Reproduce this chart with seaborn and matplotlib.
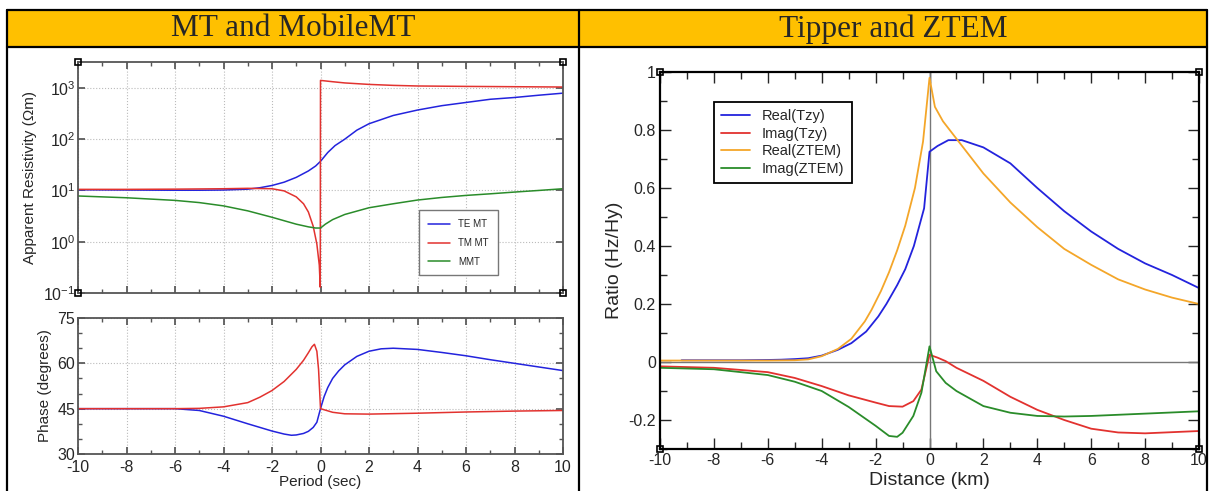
"""
MT / MobileMT vs Tipper / ZTEM comparison panel
"""
import numpy as np
import pandas as pd
import matplotlib
matplotlib.use("Agg")
import matplotlib.pyplot as plt
import matplotlib.ticker as mticker
from matplotlib.patches import Rectangle
from matplotlib.lines import Line2D
import seaborn as sns

sns.set_theme(style="ticks")
plt.rcParams["font.family"] = ["Liberation Sans", "DejaVu Sans"]
plt.rcParams["xtick.direction"] = "in"
plt.rcParams["ytick.direction"] = "in"
plt.rcParams["axes.unicode_minus"] = False

# ── Data: apparent resistivity (Ωm) vs period ─────────────────────────────
te_rho_x = [-10, -8, -6, -5, -4, -3, -2.5, -2, -1.5, -1, -0.5, -0.2, 0, 0.3, 0.6, 1,
            1.5, 2, 3, 4, 5, 6, 7, 8, 9, 10]
te_rho = [10.3, 10.2, 10.1, 10.1, 10.2, 10.6, 11.3, 12.5, 14.5, 18, 24, 30, 37, 55, 75,
          100, 150, 200, 290, 370, 450, 520, 600, 650, 720, 790]

tm_rho_x = [-10, -8, -6, -4, -3, -2, -1.5, -1, -0.7, -0.5, -0.3, -0.15, -0.05, -0.01,
            0, 0.5, 1, 2, 3, 4, 6, 8, 10]
tm_rho = [10.5, 10.5, 10.6, 10.8, 11.0, 10.8, 9.8, 7.5, 5.5, 3.8, 2.0, 0.9, 0.35, 0.13,
          1400, 1320, 1250, 1170, 1120, 1090, 1070, 1055, 1040]

mmt_rho_x = [-10, -8, -6, -5, -4, -3, -2, -1, -0.5, -0.2, 0, 0.2, 0.5, 1, 2, 3, 4, 5,
             6, 7, 8, 9, 10]
mmt_rho = [7.8, 7.2, 6.4, 5.8, 5.0, 4.0, 3.0, 2.2, 1.95, 1.85, 1.85, 2.2, 2.7, 3.4, 4.6,
           5.5, 6.5, 7.3, 8.0, 8.6, 9.3, 10.0, 10.8]

# ── Data: phase (degrees) vs period ────────────────────────────────────────
te_ph_x = [-10, -6, -5, -4, -3, -2, -1.5, -1.2, -1, -0.7, -0.5, -0.3, -0.15, 0, 0.15,
           0.3, 0.5, 0.75, 1, 1.5, 2, 2.5, 3, 4, 5, 6, 7, 8, 9, 10]
te_ph = [45, 45, 44.4, 42.5, 40, 37.6, 36.6, 36.2, 36.3, 36.8, 37.5, 38.8, 40.5, 45,
         49, 52, 55, 57.5, 59.5, 62.3, 64, 64.8, 65, 64.6, 63.6, 62.5, 61.2, 60, 58.8,
         57.6]

tm_ph_x = [-10, -6, -5, -4, -3, -2.5, -2, -1.5, -1, -0.7, -0.5, -0.35, -0.25, -0.15,
           -0.08, -0.03, 0, 0.5, 1, 2, 4, 6, 8, 10]
tm_ph = [45, 45, 45.1, 45.6, 47, 48.8, 51, 54, 58, 61, 63.5, 65.5, 66.3, 64, 58, 50,
         45, 43.8, 43.3, 43.2, 43.5, 43.9, 44.2, 44.4]

# ── Data: tipper / ZTEM ratio vs distance (km) ─────────────────────────────
real_tzy_x = [-9.2, -7, -6, -5.5, -5, -4.5, -4, -3.4, -2.9, -2.35, -1.9, -1.6, -1.2,
              -0.9, -0.58, -0.2, 0, 0.3, 0.7, 1.2, 2, 3, 4, 5, 6, 7, 8, 9, 10]
real_tzy = [0.006, 0.006, 0.007, 0.008, 0.01, 0.013, 0.022, 0.042, 0.065, 0.105, 0.157,
            0.2, 0.265, 0.32, 0.4, 0.53, 0.725, 0.745, 0.765, 0.765, 0.74, 0.685, 0.6,
            0.52, 0.45, 0.39, 0.34, 0.3, 0.255]

imag_tzy_x = [-10, -8, -6, -5, -4, -3, -2, -1.5, -1, -0.6, -0.3, 0, 0.3, 0.6, 1, 2, 3,
              4, 5, 6, 7, 8, 9, 10]
imag_tzy = [-0.015, -0.02, -0.035, -0.055, -0.083, -0.115, -0.14, -0.152, -0.154,
            -0.135, -0.095, 0.025, 0.015, 0.003, -0.02, -0.065, -0.12, -0.165, -0.2,
            -0.23, -0.243, -0.246, -0.242, -0.238]

real_ztem_x = [-10, -6, -5, -4.5, -4, -3.4, -2.9, -2.4, -2.15, -1.8, -1.5, -1.2, -0.9,
               -0.54, -0.24, 0, 0.2, 0.5, 1, 1.5, 2, 3, 4, 5, 6, 7, 8, 9, 10]
real_ztem = [0.005, 0.005, 0.006, 0.009, 0.02, 0.045, 0.08, 0.14, 0.18, 0.245, 0.31,
             0.385, 0.47, 0.6, 0.76, 0.98, 0.88, 0.83, 0.77, 0.71, 0.65, 0.55, 0.465,
             0.39, 0.335, 0.285, 0.25, 0.222, 0.2]

imag_ztem_x = [-10, -8, -6, -5, -4, -3, -2, -1.5, -1.2, -1, -0.6, -0.3, 0, 0.25, 0.6, 1,
               2, 3, 4, 5, 6, 7, 8, 9, 10]
imag_ztem = [-0.02, -0.025, -0.045, -0.068, -0.1, -0.155, -0.22, -0.255, -0.258, -0.244,
             -0.186, -0.106, 0.054, -0.032, -0.072, -0.1, -0.152, -0.175, -0.186, -0.188,
             -0.186, -0.182, -0.178, -0.174, -0.17]

BLUE, RED, GREEN, ORANGE = "#2323DD", "#E2322F", "#2A8C2A", "#F4A629"
HEADER = "#FFC000"

W, H = 1210, 491
fig = plt.figure(figsize=(W / 100, H / 100), dpi=100)


def px_axes(x0, y0, x1, y1):
    # pixel box (top-left origin) -> figure axes
    return fig.add_axes([x0 / W, 1 - y1 / H, (x1 - x0) / W, (y1 - y0) / H])


def px_line(xs, ys, lw=1.6):
    fig.add_artist(Line2D([x / W for x in xs], [1 - y / H for y in ys],
                          color="black", lw=lw, transform=fig.transFigure))


def corner_marks(ax):
    for cx in (0, 1):
        for cy in (0, 1):
            ax.plot(cx, cy, marker="s", ms=4, mfc="none", mec="black", mew=1.2,
                    transform=ax.transAxes, clip_on=False, zorder=10)


# ── Table frame & header ───────────────────────────────────────────────────
fig.add_artist(Rectangle((7 / W, 1 - 47 / H), 1200 / W, 37 / H, facecolor=HEADER,
                         edgecolor="none", transform=fig.transFigure))
px_line([7, 1207], [10, 10])
px_line([7, 1207], [47, 47])
px_line([7, 7], [10, 491])
px_line([579, 579], [10, 491])
px_line([1207, 1207], [10, 491])
fig.text(293 / W, 1 - 29 / H, "MT and MobileMT", ha="center", va="center",
         fontsize=22.5, family=["Liberation Serif", "DejaVu Serif"])
fig.text(893 / W, 1 - 29 / H, "Tipper and ZTEM", ha="center", va="center",
         fontsize=22.5, family=["Liberation Serif", "DejaVu Serif"])

# ── Left panel: apparent resistivity ───────────────────────────────────────
FRAME = "#555555"
ax1 = px_axes(78, 62, 563, 293)
sns.lineplot(x=te_rho_x, y=te_rho, ax=ax1, color=BLUE, lw=1.1, label="TE MT",
             sort=False, estimator=None)
sns.lineplot(x=tm_rho_x, y=tm_rho, ax=ax1, color=RED, lw=1.1, label="TM MT",
             sort=False, estimator=None)
sns.lineplot(x=mmt_rho_x, y=mmt_rho, ax=ax1, color=GREEN, lw=1.1, label="MMT",
             sort=False, estimator=None)
ax1.set_yscale("log")
ax1.set_ylim(0.1, 3200)
ax1.set_xlim(-10, 10)
ax1.set_yticks([0.1, 1, 10, 100, 1000])
ax1.yaxis.set_minor_locator(mticker.NullLocator())
ax1.set_xticks(np.arange(-10, 11, 2))
ax1.xaxis.set_minor_locator(mticker.MultipleLocator(1))
ax1.set_xticklabels([])
ax1.set_ylabel("Apparent Resistivity (\u03a9m)", fontsize=11)
ax1.legend(loc="lower right", bbox_to_anchor=(0.875, 0.055), fontsize=7,
           frameon=True, fancybox=False, edgecolor="#777777", framealpha=1,
           handlelength=2.3, borderpad=0.9, labelspacing=0.9)

# ── Left panel: phase ──────────────────────────────────────────────────────
ax2 = px_axes(78, 318, 563, 454)
sns.lineplot(x=te_ph_x, y=te_ph, ax=ax2, color=BLUE, lw=1.1, sort=False, estimator=None)
sns.lineplot(x=tm_ph_x, y=tm_ph, ax=ax2, color=RED, lw=1.1, sort=False, estimator=None)
ax2.set_xlim(-10, 10)
ax2.set_ylim(30, 75)
ax2.set_yticks([30, 45, 60, 75])
ax2.yaxis.set_minor_locator(mticker.MultipleLocator(5))
ax2.set_xticks(np.arange(-10, 11, 2))
ax2.xaxis.set_minor_locator(mticker.MultipleLocator(1))
ax2.set_xlabel("Period (sec)", fontsize=11, labelpad=0.5)
ax2.set_ylabel("Phase (degrees)", fontsize=11)

for ax in (ax1, ax2):
    ax.grid(True, which="major", color="#BBBBBB", ls=":", lw=0.8)
    for s in ax.spines.values():
        s.set_color(FRAME)
        s.set_linewidth(1.3)
    ax.tick_params(which="both", top=True, right=True, color=FRAME, labelsize=11.5,
                   pad=2)
    ax.tick_params(which="major", length=5)
    ax.tick_params(which="minor", length=3)
ax2.tick_params(axis="x", pad=4)
corner_marks(ax1)

# ── Right panel: tipper / ZTEM ─────────────────────────────────────────────
ax3 = px_axes(660, 72, 1199, 449)
ax3.axhline(0, color="#777777", lw=1.0, zorder=1)
ax3.axvline(0, color="#777777", lw=1.0, zorder=1)
sns.lineplot(x=real_tzy_x, y=real_tzy, ax=ax3, color=BLUE, lw=1.3, label="Real(Tzy)",
             sort=False, estimator=None)
sns.lineplot(x=imag_tzy_x, y=imag_tzy, ax=ax3, color=RED, lw=1.3, label="Imag(Tzy)",
             sort=False, estimator=None)
sns.lineplot(x=real_ztem_x, y=real_ztem, ax=ax3, color=ORANGE, lw=1.3, label="Real(ZTEM)",
             sort=False, estimator=None)
sns.lineplot(x=imag_ztem_x, y=imag_ztem, ax=ax3, color=GREEN, lw=1.3, label="Imag(ZTEM)",
             sort=False, estimator=None)
ax3.set_xlim(-10, 10)
ax3.set_ylim(-0.3, 1.0)
ax3.set_xticks(np.arange(-10, 11, 2))
ax3.xaxis.set_minor_locator(mticker.MultipleLocator(1))
ax3.set_yticks([-0.2, 0, 0.2, 0.4, 0.6, 0.8, 1.0])
ax3.yaxis.set_minor_locator(mticker.MultipleLocator(0.1))
ax3.yaxis.set_major_formatter(mticker.FuncFormatter(lambda v, p: f"{v:g}"))
ax3.set_xlabel("Distance (km)", fontsize=14, labelpad=2.5)
ax3.set_ylabel("Ratio (Hz/Hy)", fontsize=14)
for s in ax3.spines.values():
    s.set_color("black")
    s.set_linewidth(1.6)
ax3.tick_params(which="both", top=True, right=True, labelsize=11.5, pad=3)
ax3.tick_params(which="major", length=8, width=1)
ax3.tick_params(which="minor", length=5, width=1)
ax3.legend(loc="upper left", bbox_to_anchor=(0.086, 0.94), fontsize=10.5, frameon=True,
           fancybox=False, edgecolor="black", framealpha=1, handlelength=2.0,
           borderpad=0.5, labelspacing=0.25)
ax3.get_legend().get_frame().set_linewidth(1.3)
corner_marks(ax3)

fig.savefig("out.png", dpi=100)
